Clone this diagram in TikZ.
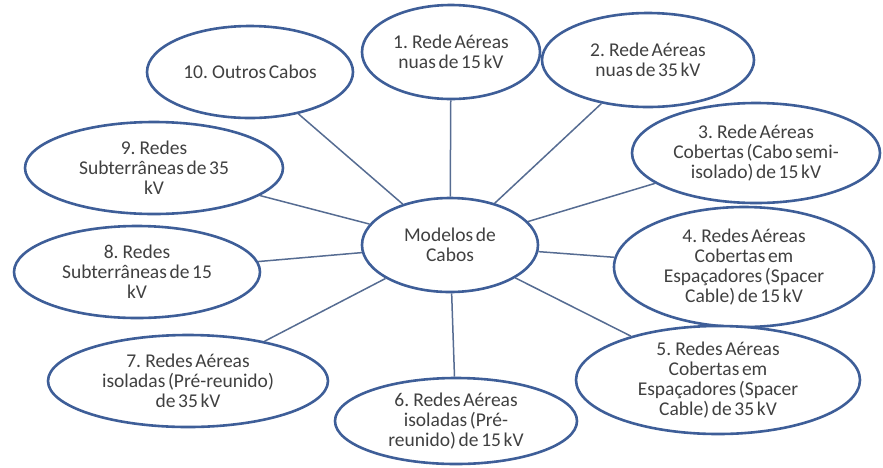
\documentclass[tikz,border=0pt]{standalone}
\usepackage{fontspec}
\setmainfont{Carlito}[WordSpace=0.6]
\usetikzlibrary{shapes.geometric}
\definecolor{caboBlue}{HTML}{3E5E98}
\definecolor{ligaBlue}{HTML}{566C92}
\definecolor{caboText}{HTML}{404040}

\tikzset{
  cabo/.style={ellipse,draw=caboBlue,line width=2.6pt,fill=white,inner sep=0pt,
    align=center,text=caboText,font=\fontsize{19.5}{20}\selectfont},
  liga/.style={draw=ligaBlue,line width=1.5pt}
}

\begin{document}
\begin{tikzpicture}[x=1pt,y=-1pt]
  \useasboundingbox (0,0) rectangle (883,467);
  \node[cabo,minimum width=176pt,minimum height=94pt] (m) at (450,245) {Modelos de\\Cabos};
  \node[cabo,minimum width=178pt,minimum height=94pt] (n1) at (451,52) {1. Rede Aéreas\\nuas de 15 kV};
  \node[cabo,minimum width=212pt,minimum height=94pt] (n2) at (648,60) {2. Rede Aéreas\\nuas de 35 kV};
  \node[cabo,minimum width=248pt,minimum height=100pt] (n3) at (756,153) {3. Rede Aéreas\\Cobertas (Cabo semi-\\isolado) de 15 kV};
  \node[cabo,minimum width=260pt,minimum height=120pt] (n4) at (744,267) {4. Redes Aéreas\\Cobertas em\\Espaçadores (Spacer\\Cable) de 15 kV};
  \node[cabo,minimum width=284pt,minimum height=108pt] (n5) at (718,380) {5. Redes Aéreas\\Cobertas em\\Espaçadores (Spacer\\Cable) de 35 kV};
  \node[cabo,minimum width=242pt,minimum height=86pt] (n6) at (456,421) {6. Redes Aéreas\\isoladas (Pré-\\reunido) de 15 kV};
  \node[cabo,minimum width=280pt,minimum height=92pt] (n7) at (188,381) {7. Redes Aéreas\\isoladas (Pré-reunido)\\de 35 kV};
  \node[cabo,minimum width=246pt,minimum height=92pt] (n8) at (137,272) {8. Redes\\Subterrâneas de 15\\kV};
  \node[cabo,minimum width=258pt,minimum height=92pt] (n9) at (154,168) {9. Redes\\Subterrâneas de 35\\kV};
  \node[cabo,minimum width=206pt,minimum height=92pt] (n10) at (250,72) {10. Outros Cabos};
  \foreach \n in {n1,n2,n3,n4,n5,n6,n7,n8,n9,n10}
    \draw[liga] (m) -- (\n);
\end{tikzpicture}
\end{document}
